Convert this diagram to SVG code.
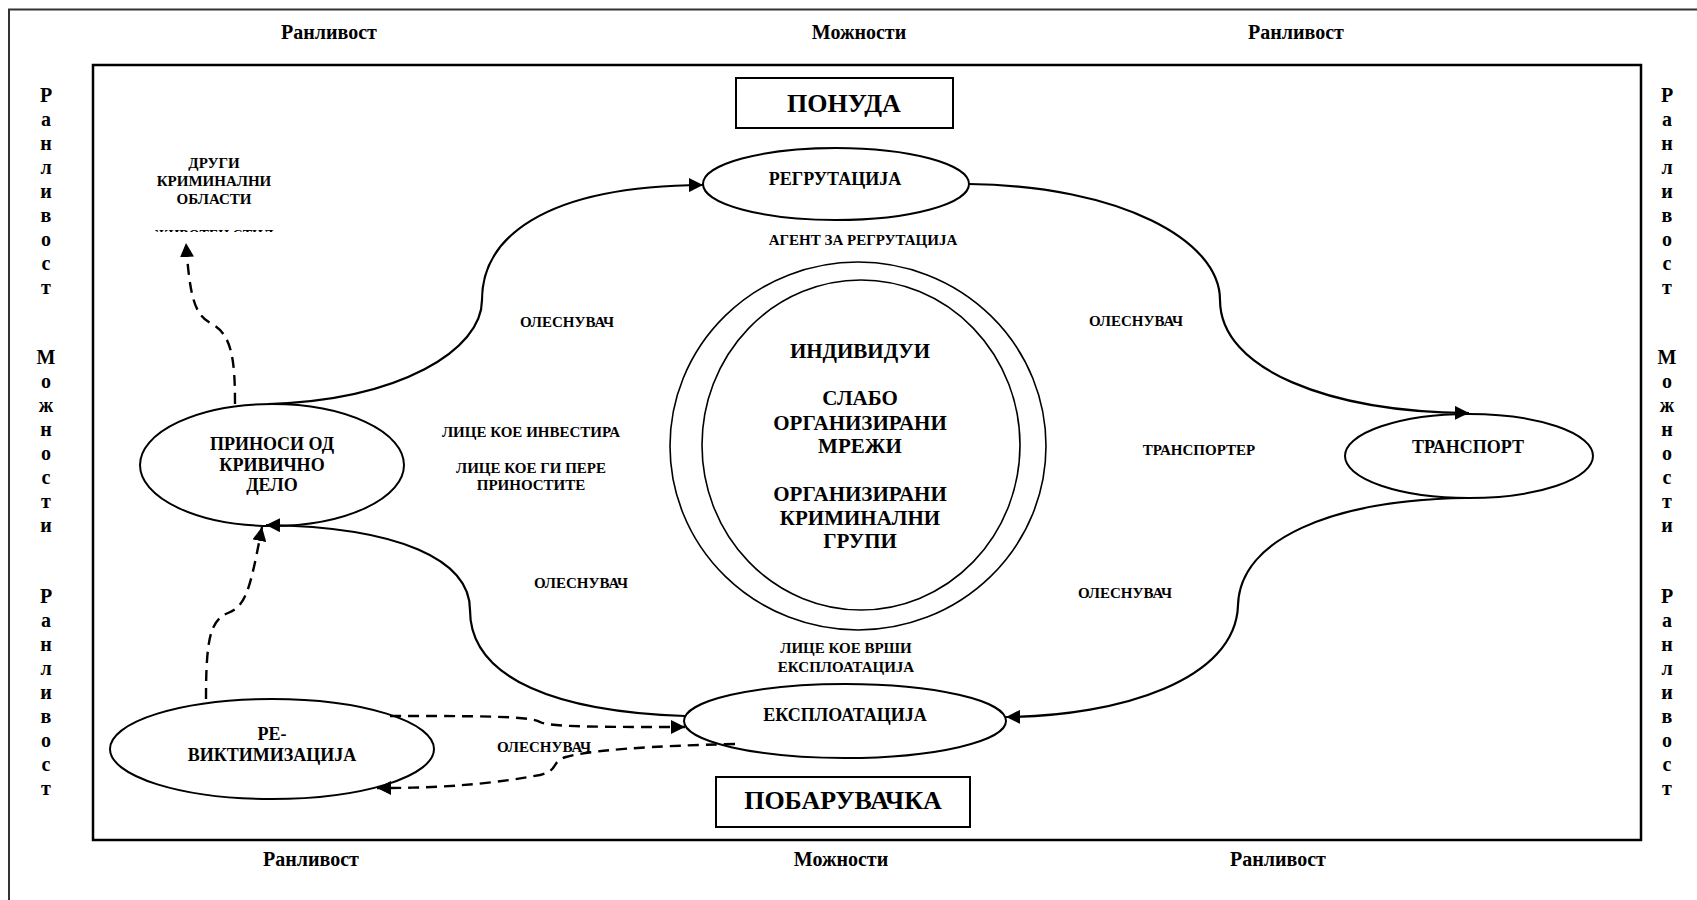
<svg xmlns="http://www.w3.org/2000/svg" width="1697" height="900" viewBox="0 0 1697 900">
<style>
text{font-family:"Liberation Serif","Times New Roman",serif;font-weight:bold;fill:#000;text-anchor:middle}
.b{font-size:20px}
.v{font-size:20px}
.n{font-size:18px}
.s{font-size:15px}
.big{font-size:26px}
.c{font-size:21px}
.sh{fill:none;stroke:#000;stroke-width:2}
.ring{fill:none;stroke:#000;stroke-width:1.6}
.frame{fill:none;stroke:#000;stroke-width:2.5}
.con{fill:none;stroke:#000;stroke-width:2.2}
.dash{fill:none;stroke:#000;stroke-width:2.4;stroke-dasharray:11 7}
</style>
<defs>
<marker id="ah" markerUnits="userSpaceOnUse" markerWidth="15" markerHeight="14" refX="14" refY="7" orient="auto" viewBox="0 0 15 14"><path d="M0,0 L14,7 L0,14 z" fill="#000"/></marker>
<clipPath id="clipLife"><rect x="100" y="220" width="250" height="12"/></clipPath>
</defs>
<rect width="1697" height="900" fill="#fff"/>
<g id="frames">
<path d="M9,900 V9.5 H1697" fill="none" stroke="#333" stroke-width="2"/>
<rect class="frame" x="93" y="65" width="1548" height="775"/>
</g>
<g id="border-labels">
<text class="b" x="329" y="39">Ранливост</text>
<text class="b" x="859" y="39">Можности</text>
<text class="b" x="1296" y="39">Ранливост</text>
<text class="b" x="311" y="866">Ранливост</text>
<text class="b" x="841" y="866">Можности</text>
<text class="b" x="1278" y="866">Ранливост</text>
<text class="v"><tspan x="46" y="102">Р</tspan><tspan x="46" y="126">а</tspan><tspan x="46" y="150">н</tspan><tspan x="46" y="174">л</tspan><tspan x="46" y="198">и</tspan><tspan x="46" y="222">в</tspan><tspan x="46" y="246">о</tspan><tspan x="46" y="270">с</tspan><tspan x="46" y="294">т</tspan><tspan x="46" y="364">М</tspan><tspan x="46" y="388">о</tspan><tspan x="46" y="412">ж</tspan><tspan x="46" y="436">н</tspan><tspan x="46" y="460">о</tspan><tspan x="46" y="484">с</tspan><tspan x="46" y="508">т</tspan><tspan x="46" y="532">и</tspan><tspan x="46" y="603">Р</tspan><tspan x="46" y="627">а</tspan><tspan x="46" y="651">н</tspan><tspan x="46" y="675">л</tspan><tspan x="46" y="699">и</tspan><tspan x="46" y="723">в</tspan><tspan x="46" y="747">о</tspan><tspan x="46" y="771">с</tspan><tspan x="46" y="795">т</tspan></text>
<text class="v"><tspan x="1667" y="102">Р</tspan><tspan x="1667" y="126">а</tspan><tspan x="1667" y="150">н</tspan><tspan x="1667" y="174">л</tspan><tspan x="1667" y="198">и</tspan><tspan x="1667" y="222">в</tspan><tspan x="1667" y="246">о</tspan><tspan x="1667" y="270">с</tspan><tspan x="1667" y="294">т</tspan><tspan x="1667" y="364">М</tspan><tspan x="1667" y="388">о</tspan><tspan x="1667" y="412">ж</tspan><tspan x="1667" y="436">н</tspan><tspan x="1667" y="460">о</tspan><tspan x="1667" y="484">с</tspan><tspan x="1667" y="508">т</tspan><tspan x="1667" y="532">и</tspan><tspan x="1667" y="603">Р</tspan><tspan x="1667" y="627">а</tspan><tspan x="1667" y="651">н</tspan><tspan x="1667" y="675">л</tspan><tspan x="1667" y="699">и</tspan><tspan x="1667" y="723">в</tspan><tspan x="1667" y="747">о</tspan><tspan x="1667" y="771">с</tspan><tspan x="1667" y="795">т</tspan></text>
</g>
<g id="connectors">
<path class="con" d="M268,404 C400,400 482,350 482,300 C482,240 540,186 703,185" marker-end="url(#ah)"/>
<path class="con" d="M969,184 C1120,186 1220,240 1220,300 C1220,370 1330,412 1469,413" marker-end="url(#ah)"/>
<path class="con" d="M1466,498 C1330,500 1240,540 1238,605 C1236,680 1120,716 1006,717" marker-end="url(#ah)"/>
<path class="con" d="M685,716 C560,712 470,680 470,610 C470,560 400,527 266,525" marker-end="url(#ah)"/>
<path class="dash" d="M235,404 C235,360 232,335 212,324 C195,315 190,300 186,243" marker-end="url(#ah)"/>
<path class="dash" d="M206,699 C206,640 210,620 228,613 C246,606 250,590 262,527" marker-end="url(#ah)"/>
<path class="dash" d="M390,716 C480,716 530,716 540,722 C548,727 600,727 685,727" marker-end="url(#ah)"/>
<path class="dash" d="M735,744 C650,746 590,750 566,757 C550,762 560,770 540,775 C480,786 430,788 377,788" marker-end="url(#ah)"/>
</g>
<g id="ponuda">
<rect class="sh" x="736" y="78" width="217" height="50"/>
<text class="big" x="844" y="112">ПОНУДА</text>
</g>
<g id="pobaruvachka">
<rect class="sh" x="716" y="777" width="254" height="50"/>
<text class="big" x="843" y="809">ПОБАРУВАЧКА</text>
</g>
<g id="regrutacija">
<ellipse class="sh" cx="836" cy="184" rx="133" ry="36"/>
<text class="n" x="835" y="185">РЕГРУТАЦИЈА</text>
</g>
<g id="transport">
<ellipse class="sh" cx="1469" cy="456" rx="124" ry="42"/>
<text class="n" x="1468" y="453">ТРАНСПОРТ</text>
</g>
<g id="eksploatacija">
<ellipse class="sh" cx="845" cy="721" rx="161" ry="37"/>
<text class="n" x="845" y="721">ЕКСПЛОАТАЦИЈА</text>
</g>
<g id="prinosi">
<ellipse class="sh" cx="272" cy="465" rx="132" ry="61"/>
<text class="n"><tspan x="272" y="450">ПРИНОСИ ОД</tspan><tspan x="272" y="471">КРИВИЧНО</tspan><tspan x="272" y="491">ДЕЛО</tspan></text>
</g>
<g id="reviktimizacija">
<ellipse class="sh" cx="272" cy="749" rx="162" ry="50"/>
<text class="n"><tspan x="272" y="740">РЕ-</tspan><tspan x="272" y="761">ВИКТИМИЗАЦИЈА</tspan></text>
</g>
<g id="core">
<ellipse class="ring" cx="858" cy="446" rx="188" ry="184"/>
<ellipse class="ring" cx="861" cy="445" rx="159" ry="165"/>
<text class="c"><tspan x="860" y="358">ИНДИВИДУИ</tspan><tspan x="860" y="405">СЛАБО</tspan><tspan x="860" y="430">ОРГАНИЗИРАНИ</tspan><tspan x="860" y="453">МРЕЖИ</tspan><tspan x="860" y="501">ОРГАНИЗИРАНИ</tspan><tspan x="860" y="525">КРИМИНАЛНИ</tspan><tspan x="860" y="548">ГРУПИ</tspan></text>
</g>
<g id="drugi">
<text class="s"><tspan x="214" y="168">ДРУГИ</tspan><tspan x="214" y="186">КРИМИНАЛНИ</tspan><tspan x="214" y="204">ОБЛАСТИ</tspan></text>
<text class="s" x="214" y="240" style="font-size:14px" clip-path="url(#clipLife)">ЖИВОТЕН СТИЛ</text>
</g>
<g id="labels">
<text class="s" x="863" y="245">АГЕНТ ЗА РЕГРУТАЦИЈА</text>
<text class="s" x="567" y="327">ОЛЕСНУВАЧ</text>
<text class="s" x="1136" y="326">ОЛЕСНУВАЧ</text>
<text class="s" x="581" y="588">ОЛЕСНУВАЧ</text>
<text class="s" x="1125" y="598">ОЛЕСНУВАЧ</text>
<text class="s" x="544" y="752">ОЛЕСНУВАЧ</text>
<text class="s" x="531" y="437">ЛИЦЕ КОЕ ИНВЕСТИРА</text>
<text class="s"><tspan x="531" y="473">ЛИЦЕ КОЕ ГИ ПЕРЕ</tspan><tspan x="531" y="490">ПРИНОСТИТЕ</tspan></text>
<text class="s" x="1199" y="455">ТРАНСПОРТЕР</text>
<text class="s"><tspan x="846" y="653">ЛИЦЕ КОЕ ВРШИ</tspan><tspan x="846" y="672">ЕКСПЛОАТАЦИЈА</tspan></text>
</g>
</svg>
